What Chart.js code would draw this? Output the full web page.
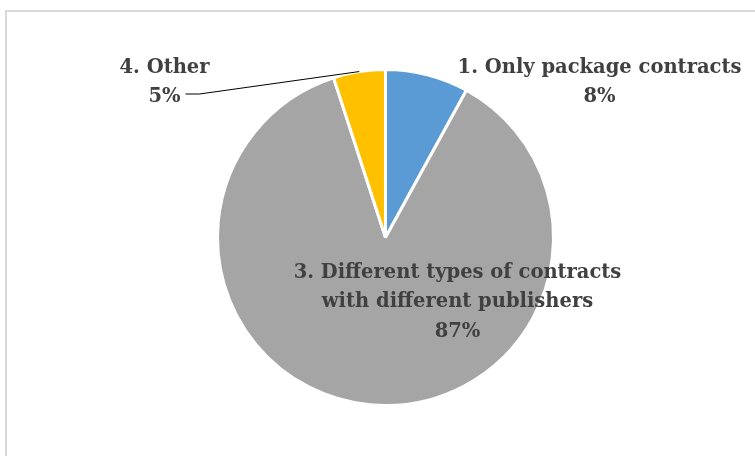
<!DOCTYPE html>
<html>
<head>
<meta charset="utf-8">
<script src="https://cdn.jsdelivr.net/npm/chart.js@4.4.0/dist/chart.umd.min.js"></script>
<style>
  body { margin: 0; background: #fff; overflow: hidden; }
  .wrap { position: relative; width: 755px; height: 456px; }
  .frame { position: absolute; left: 5px; top: 10px; width: 800px; height: 500px; border: 2px solid #d9d9d9; box-sizing: border-box; }
  canvas { position: absolute; left: 0; top: 0; }
</style>
</head>
<body>
<div class="wrap">
  <div class="frame"></div>
  <canvas id="contract-chart" width="755" height="456"></canvas>
</div>
<script>
const categories = [
  ["1. Only package contracts"],
  ["3. Different types of contracts", "with different publishers"],
  ["4. Other"]
];
const shares = [8, 87, 5];
const sliceColors = ["#5b9bd5", "#a5a5a5", "#ffc000"];

// where each label block sits, relative to the pie centre (first line centre)
const labelOffsets = [[214, -170], [72, 35], [-221, -170]];
const lineGap = 29.5;

const pieLabels = {
  id: "pieLabels",
  afterDatasetsDraw(chart) {
    const ctx = chart.ctx;
    const arcs = chart.getDatasetMeta(0).data;
    ctx.save();
    ctx.font = "bold 19.5px 'DejaVu Serif'";
    ctx.fillStyle = "#404040";
    ctx.textAlign = "center";
    ctx.textBaseline = "middle";
    arcs.forEach((arc, i) => {
      const lines = categories[i].concat([shares[i] + "%"]);
      const lx = arc.x + labelOffsets[i][0];
      const ly = arc.y + labelOffsets[i][1];
      lines.forEach((t, k) => ctx.fillText(t, lx, ly + k * lineGap));
    });

    // leader line for the small "Other" slice
    const a = arcs[2];
    const mid = (a.startAngle + a.endAngle) / 2;
    const px = a.x + Math.cos(mid) * a.outerRadius;
    const py = a.y + Math.sin(mid) * a.outerRadius;
    const sx = a.x + labelOffsets[2][0] + 21;
    const sy = a.y + labelOffsets[2][1] + lineGap - 3;
    ctx.strokeStyle = "#000";
    ctx.lineWidth = 1;
    ctx.beginPath();
    ctx.moveTo(sx, sy);
    ctx.lineTo(sx + 14, sy);
    ctx.lineTo(px, py);
    ctx.stroke();
    ctx.restore();
  }
};

new Chart(document.querySelector("#contract-chart").getContext("2d"), {
  type: "pie",
  data: {
    labels: categories.map(c => c.join(" ")),
    datasets: [{
      data: shares,
      backgroundColor: sliceColors,
      borderColor: "#ffffff",
      borderWidth: 3
    }]
  },
  options: {
    responsive: false,
    devicePixelRatio: 1,
    animation: false,
    layout: { padding: { top: 68, bottom: 49, left: 16, right: 0 } },
    plugins: {
      legend: { display: false },
      tooltip: { enabled: false }
    }
  },
  plugins: [pieLabels]
});
</script>
</body>
</html>
